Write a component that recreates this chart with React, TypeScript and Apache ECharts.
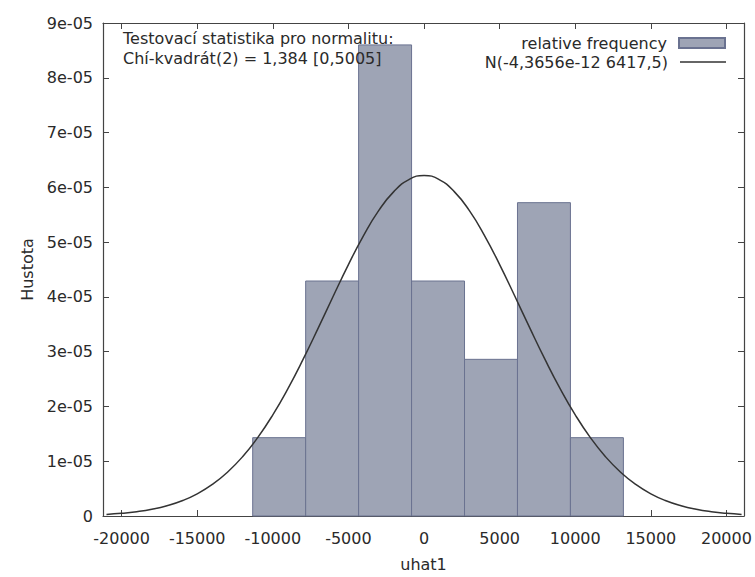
import React, { useEffect, useRef } from "react";
import * as echarts from "echarts";

// Histogram bins (bin edges in uhat1 units) and relative-frequency densities
const binLeft = [-11330, -7828, -4326, -824, 2678, 6180, 9682];
const binRight = [-7828, -4326, -824, 2678, 6180, 9682, 13184];
const relFreq = [1.43e-5, 4.29e-5, 8.6e-5, 4.29e-5, 2.86e-5, 5.72e-5, 1.43e-5];

// Normal density curve N(-4,3656e-12 6417,5) read at these x positions
const curveX = [
  -21000, -20000, -19000, -18000, -17000, -16000, -15000, -14000, -13000, -12000, -11000,
  -10000, -9000, -8000, -7000, -6000, -5000, -4000, -3000, -2000, -1000, 0,
  1000, 2000, 3000, 4000, 5000, 6000, 7000, 8000, 9000, 10000,
  11000, 12000, 13000, 14000, 15000, 16000, 17000, 18000, 19000, 20000, 21000,
];
const curveY = [
  2.9e-7, 4.8e-7, 7.8e-7, 1.22e-6, 1.86e-6, 2.78e-6, 4.05e-6, 5.76e-6, 7.99e-6, 1.082e-5, 1.431e-5,
  1.847e-5, 2.325e-5, 2.858e-5, 3.429e-5, 4.016e-5, 4.589e-5, 5.119e-5, 5.574e-5, 5.922e-5, 6.142e-5, 6.217e-5,
  6.142e-5, 5.922e-5, 5.574e-5, 5.119e-5, 4.589e-5, 4.016e-5, 3.429e-5, 2.858e-5, 2.325e-5, 1.847e-5,
  1.431e-5, 1.082e-5, 7.99e-6, 5.76e-6, 4.05e-6, 2.78e-6, 1.86e-6, 1.22e-6, 7.8e-7, 4.8e-7, 2.9e-7,
];

const yTickLabels = ["0", "1e-05", "2e-05", "3e-05", "4e-05", "5e-05", "6e-05", "7e-05", "8e-05", "9e-05"];

const histName = "relative frequency";
const curveName = "N(-4,3656e-12 6417,5)";
const statLines = ["Testovací statistika pro normalitu:", "Chí-kvadrát(2) = 1,384 [0,5005]"];

const FONT = "DejaVu Sans";
const FS = 16;
const TEXT = "#2a2a2a";
const AXIS = "#444";
const FILL = "#9ea4b5";
const EDGE = "#6a7290";

export default function App() {
  const ref = useRef<HTMLDivElement>(null);

  useEffect(() => {
    if (!ref.current) return;
    const chart = echarts.init(ref.current, undefined, { renderer: "svg" });
    const xMin = -21230;
    const xMax = 21160;
    const tickStyle = { inside: true, length: 6, lineStyle: { color: AXIS, width: 1 } };
    const lineStyle = { show: true, onZero: false, lineStyle: { color: AXIS, width: 1.2 } };

    chart.setOption({
      animation: false,
      backgroundColor: "#fff",
      textStyle: { fontFamily: FONT },
      grid: { left: 103, right: 11, top: 23, bottom: 56 },
      legend: [
        {
          data: [{ name: histName, icon: "rect" }],
          right: 24,
          top: 30,
          orient: "vertical",
          align: "right",
          itemWidth: 46,
          itemHeight: 10,
          textStyle: { fontFamily: FONT, fontSize: FS, color: TEXT, padding: [0, 7, 0, 0] },
        },
        {
          data: [{ name: curveName, icon: "rect", itemStyle: { color: "#333", borderWidth: 0 } }],
          right: 24,
          top: 49,
          orient: "vertical",
          align: "right",
          itemWidth: 46,
          itemHeight: 1.5,
          textStyle: { fontFamily: FONT, fontSize: FS, color: TEXT, padding: [0, 7, 0, 0] },
        },
      ],
      graphic: [
        {
          type: "text",
          left: 123,
          top: 28,
          style: {
            text: statLines.join("\n"),
            fontFamily: FONT,
            fontSize: FS,
            lineHeight: 20,
            fill: TEXT,
          },
          z: 10,
        },
      ],
      xAxis: [
        {
          type: "value",
          min: xMin,
          max: xMax,
          splitNumber: 8,
          position: "bottom",
          name: "uhat1",
          nameLocation: "middle",
          nameGap: 40,
          nameTextStyle: { fontFamily: FONT, fontSize: FS, color: TEXT },
          axisLine: lineStyle,
          axisTick: tickStyle,
          splitLine: { show: false },
          axisLabel: {
            showMinLabel: false,
            showMaxLabel: false,
            margin: 14,
            fontFamily: FONT,
            fontSize: FS,
            color: TEXT,
            formatter: (v: number) => String(v),
          },
        },
        {
          type: "value",
          min: xMin,
          max: xMax,
          splitNumber: 8,
          position: "top",
          axisLine: lineStyle,
          axisTick: tickStyle,
          splitLine: { show: false },
          axisLabel: { show: false },
        },
      ],
      yAxis: [
        {
          type: "value",
          min: 0,
          max: 9e-5,
          interval: 1e-5,
          position: "left",
          name: "Hustota",
          nameLocation: "middle",
          nameGap: 64,
          nameRotate: 90,
          nameTextStyle: { fontFamily: FONT, fontSize: FS, color: TEXT },
          axisLine: lineStyle,
          axisTick: tickStyle,
          splitLine: { show: false },
          axisLabel: {
            margin: 10,
            fontFamily: FONT,
            fontSize: FS,
            color: TEXT,
            formatter: (_v: number, i: number) => yTickLabels[i] ?? "",
          },
        },
        {
          type: "value",
          min: 0,
          max: 9e-5,
          interval: 1e-5,
          position: "right",
          axisLine: lineStyle,
          axisTick: tickStyle,
          splitLine: { show: false },
          axisLabel: { show: false },
        },
      ],
      series: [
        {
          name: histName,
          type: "custom",
          xAxisIndex: 0,
          yAxisIndex: 0,
          itemStyle: { color: FILL, borderColor: EDGE, borderWidth: 1 },
          encode: { x: [0, 1], y: 2 },
          data: binLeft.map((l, i) => [l, binRight[i], relFreq[i]]),
          renderItem: (_params: any, api: any) => {
            const p0 = api.coord([api.value(0), api.value(2)]);
            const p1 = api.coord([api.value(1), 0]);
            return {
              type: "rect",
              shape: { x: p0[0], y: p0[1], width: p1[0] - p0[0], height: p1[1] - p0[1] },
              style: { fill: FILL, stroke: EDGE, lineWidth: 1 },
            };
          },
          z: 2,
        },
        {
          name: curveName,
          type: "line",
          xAxisIndex: 0,
          yAxisIndex: 0,
          data: curveX.map((x, i) => [x, curveY[i]]),
          smooth: true,
          symbol: "none",
          showSymbol: false,
          lineStyle: { color: "#333", width: 1.5 },
          itemStyle: { color: "#333" },
          z: 3,
        },
      ],
    });
    return () => chart.dispose();
  }, []);

  return (
    <div
      ref={ref}
      style={{ position: "absolute", left: 0, top: 0, width: 755, height: 577 }}
    />
  );
}
